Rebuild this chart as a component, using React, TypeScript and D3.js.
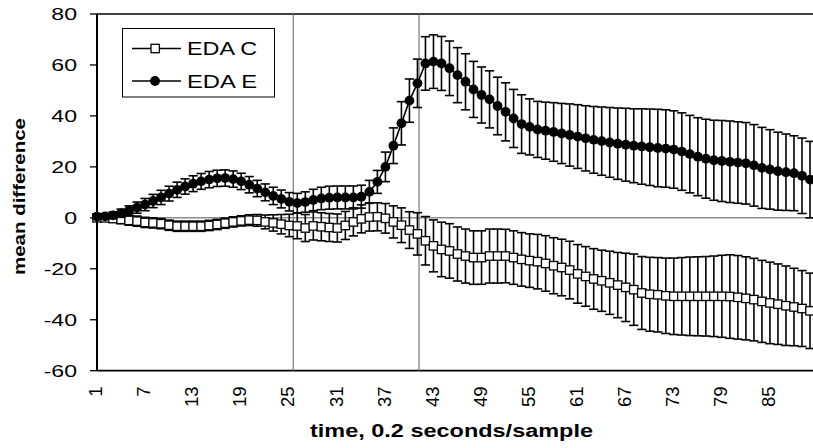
import React from "react";
import * as d3 from "d3";

// Sample index (0.2 s per sample)
const categories: number[] = d3.range(1, 91);
const xTickLabels: number[] = [1, 7, 13, 19, 25, 31, 37, 43, 49, 55, 61, 67, 73, 79, 85];
const yTickValues: number[] = [-60, -40, -20, 0, 20, 40, 60, 80];
// Phase boundaries (sample positions)
const phaseMarkers: number[] = [25.5, 41.2];

const seriesNames = ["EDA C", "EDA E"];

const edaC: number[] = [
  0, 0, -0.3, -0.6, -1.0, -1.3, -1.8, -2.0, -2.3, -2.9,
  -3.3, -3.3, -3.3, -3.3, -3.0, -2.6, -2.1, -1.6, -1.2, -0.9,
  -1.0, -1.6, -2.0, -2.5, -3.0, -3.2, -4.0, -3.2, -3.5, -3.8,
  -4.0, -3.0, -1.6, -0.4, 0.3, 0.4, -0.2, -1.6, -2.9, -4.8,
  -6.3, -9.0, -11.0, -12.4, -13.0, -14.2, -15.0, -15.6, -15.6, -15.0,
  -15.0, -15.0, -15.6, -16.3, -16.8, -17.2, -17.9, -18.8, -19.5, -20.5,
  -22.0, -23.0, -24.0, -24.7, -25.5, -26.4, -27.3, -28.2, -29.5, -30.0,
  -30.2, -30.6, -30.8, -30.8, -30.8, -30.8, -30.8, -30.8, -30.8, -30.9,
  -31.2, -31.6, -32.1, -32.8, -33.4, -33.9, -34.5, -35.0, -35.6, -36.5,
];

const edaCErr: number[] = [
  0.6, 1.0, 1.4, 1.7, 1.9, 2.0, 2.0, 2.0, 2.0, 2.0,
  2.0, 2.0, 2.0, 2.0, 2.0, 2.0, 2.0, 2.0, 2.0, 2.1,
  2.3, 2.7, 3.2, 3.8, 4.4, 5.0, 5.3, 5.5, 5.5, 5.5,
  5.5, 5.5, 5.5, 5.5, 5.5, 5.5, 5.8, 6.3, 6.8, 7.2,
  8.3, 9.5, 10.2, 10.7, 10.7, 10.6, 10.6, 10.5, 10.5, 10.6,
  10.6, 10.5, 10.5, 10.5, 10.5, 10.7, 10.9, 11.0, 11.1, 11.3,
  11.5, 11.7, 11.9, 12.0, 12.4, 12.8, 13.4, 14.0, 14.3, 14.5,
  14.6, 14.8, 15.0, 15.2, 15.4, 15.5, 15.6, 15.8, 16.1, 16.4,
  16.4, 16.3, 16.2, 16.1, 16.0, 15.8, 15.6, 15.2, 14.9, 14.8,
];

const edaE: number[] = [
  0.5, 0.6, 1.0, 1.8, 2.8, 4.0, 5.2, 6.6, 8.0, 9.5,
  11.0, 12.3, 13.4, 14.3, 15.0, 15.5, 15.6, 15.2, 14.3, 13.0,
  11.5, 10.0, 8.6, 7.4, 6.3, 5.8, 6.2, 7.0, 7.6, 7.9,
  8.0, 8.0, 8.0, 8.3, 10.2, 14.1, 20.0, 28.3, 37.1, 46.0,
  52.8, 60.6, 61.3, 60.6, 58.7, 56.0, 53.4, 50.4, 48.2, 46.5,
  43.9, 41.6, 39.0, 36.8, 35.7, 34.7, 34.2, 33.7, 33.1, 32.5,
  31.9, 31.2, 30.6, 30.1, 29.6, 29.1, 28.7, 28.3, 28.0, 27.7,
  27.4, 27.2, 26.8, 26.0, 25.0, 24.0, 23.2, 22.6, 22.3, 22.0,
  21.7, 21.4, 20.6, 19.6, 19.0, 18.3, 17.9, 17.5, 16.5, 15.0,
];

const edaEErr: number[] = [
  0.8, 1.0, 1.3, 1.6, 1.9, 2.2, 2.4, 2.6, 2.8, 2.9,
  3.0, 3.0, 3.1, 3.1, 3.2, 3.2, 3.2, 3.2, 3.2, 3.2,
  3.2, 3.3, 3.4, 3.5, 3.6, 3.8, 4.0, 4.2, 4.4, 4.5,
  4.5, 4.5, 4.5, 4.5, 4.5, 4.5, 5.8, 7.0, 8.5, 8.5,
  9.5, 10.5, 10.5, 10.6, 10.7, 10.8, 11.0, 11.0, 11.0, 11.2,
  11.3, 11.4, 11.4, 11.5, 11.0, 11.0, 11.2, 11.5, 11.8, 12.2,
  12.5, 12.8, 13.1, 13.4, 13.7, 14.0, 14.3, 14.5, 14.8, 15.0,
  15.2, 15.2, 15.2, 15.2, 15.2, 15.3, 15.5, 15.7, 15.9, 16.0,
  16.0, 16.0, 16.0, 15.9, 15.6, 15.3, 15.0, 14.7, 14.8, 15.0,
];

const W = 813;
const H = 448;
const plot = { left: 97, top: 14, right: 816, bottom: 370.7 };
const FONT = "'Liberation Sans', Arial, Helvetica, sans-serif";
const STRETCH = 1.4;

const x = d3.scaleLinear().domain([1, 90]).range([plot.left, 810]);
const y = d3.scaleLinear().domain([-60, 80]).range([plot.bottom, plot.top]);

type Pt = { c: number; v: number; e: number };

function ErrorBars({ pts }: { pts: Pt[] }) {
  const cap = 4.6;
  return (
    <g stroke="#000" strokeWidth={1.6} fill="none">
      {pts.map((p, i) => {
        const cx = x(p.c);
        const y1 = y(p.v + p.e);
        const y2 = y(p.v - p.e);
        return (
          <g key={i}>
            <line x1={cx} x2={cx} y1={y1} y2={y2} />
            <line x1={cx - cap} x2={cx + cap} y1={y1} y2={y1} />
            <line x1={cx - cap} x2={cx + cap} y1={y2} y2={y2} />
          </g>
        );
      })}
    </g>
  );
}

function Series({ values, errs, marker }: { values: number[]; errs: number[]; marker: "square" | "circle" }) {
  const pts: Pt[] = categories.map((c, i) => ({ c, v: values[i], e: errs[i] }));
  const line = d3
    .line<Pt>()
    .x((p) => x(p.c))
    .y((p) => y(p.v));
  return (
    <g>
      <ErrorBars pts={pts} />
      <path d={line(pts) || ""} fill="none" stroke="#000" strokeWidth={1.6} />
      {pts.map((p, i) =>
        marker === "square" ? (
          <rect key={i} x={x(p.c) - 4.2} y={y(p.v) - 4.2} width={8.4} height={8.4} fill="#fff" stroke="#000" strokeWidth={1.3} />
        ) : (
          <circle key={i} cx={x(p.c)} cy={y(p.v)} r={4.9} fill="#000" />
        )
      )}
    </g>
  );
}

function StretchText({ tx, ty, anchor, size, weight, children }: any) {
  return (
    <g transform={`translate(${tx},${ty}) scale(${STRETCH},1)`}>
      <text textAnchor={anchor} fontSize={size} fontWeight={weight} fontFamily={FONT} fill="#000">
        {children}
      </text>
    </g>
  );
}

export default function App() {
  return (
    <svg width={W} height={H} style={{ position: "absolute", left: 0, top: 0, background: "#fff" }}>
      <rect x={0} y={0} width={W} height={H} fill="#fff" />
      {/* plot area border */}
      <line x1={plot.left} x2={plot.right} y1={plot.top} y2={plot.top} stroke="#000" strokeWidth={1.5} />
      <line x1={plot.left} x2={plot.right} y1={plot.bottom} y2={plot.bottom} stroke="#000" strokeWidth={1.8} />
      {/* category axis crossing at zero */}
      <line x1={plot.left} x2={plot.right} y1={y(0)} y2={y(0)} stroke="#555" strokeWidth={1} />
      {/* phase boundaries */}
      {phaseMarkers.map((m, i) => (
        <line key={i} x1={x(m)} x2={x(m)} y1={plot.top} y2={plot.bottom} stroke="#777" strokeWidth={1.2} />
      ))}

      <Series values={edaC} errs={edaCErr} marker="square" />
      <Series values={edaE} errs={edaEErr} marker="circle" />

      {/* value axis */}
      <line x1={plot.left} x2={plot.left} y1={plot.top} y2={plot.bottom} stroke="#000" strokeWidth={2} />
      {yTickValues.map((t) => (
        <g key={t}>
          <line x1={plot.left - 7} x2={plot.left} y1={y(t)} y2={y(t)} stroke="#000" strokeWidth={1.3} />
          <StretchText tx={77} ty={y(t) + 6} anchor="end" size={16.5} weight="normal">
            {t}
          </StretchText>
        </g>
      ))}

      {/* category labels */}
      {xTickLabels.map((t) => (
        <text
          key={t}
          transform={`translate(${x(t) - 1.5},386.5) rotate(-90)`}
          textAnchor="end"
          dy="0.36em"
          fontSize={18.5}
          fontFamily={FONT}
          fill="#000"
        >
          {t}
        </text>
      ))}

      {/* axis titles */}
      <text
        x={451.5}
        y={436.5}
        textAnchor="middle"
        fontSize={17.5}
        fontWeight="bold"
        fontFamily={FONT}
        textLength={283}
        lengthAdjust="spacingAndGlyphs"
      >
        time, 0.2 seconds/sample
      </text>
      <text
        transform="translate(25,196.5) rotate(-90)"
        textAnchor="middle"
        fontSize={16.5}
        fontWeight="bold"
        fontFamily={FONT}
        textLength={157}
        lengthAdjust="spacingAndGlyphs"
      >
        mean difference
      </text>

      {/* legend */}
      <g>
        <rect x={122.5} y={28.5} width={152} height={68.5} fill="#fff" stroke="#000" strokeWidth={1} />
        {seriesNames.map((name, i) => {
          const ly = 48.5 + i * 32.5;
          return (
            <g key={name}>
              <line x1={132} x2={181} y1={ly} y2={ly} stroke="#000" strokeWidth={1.6} />
              {i === 0 ? (
                <rect x={151} y={ly - 4.2} width={8.4} height={8.4} fill="#fff" stroke="#000" strokeWidth={1.3} />
              ) : (
                <circle cx={155} cy={ly} r={4.9} fill="#000" />
              )}
              <text
                x={187}
                y={ly + 6.5}
                fontSize={18}
                fontFamily={FONT}
                textLength={70}
                lengthAdjust="spacingAndGlyphs"
              >
                {name}
              </text>
            </g>
          );
        })}
      </g>
    </svg>
  );
}
